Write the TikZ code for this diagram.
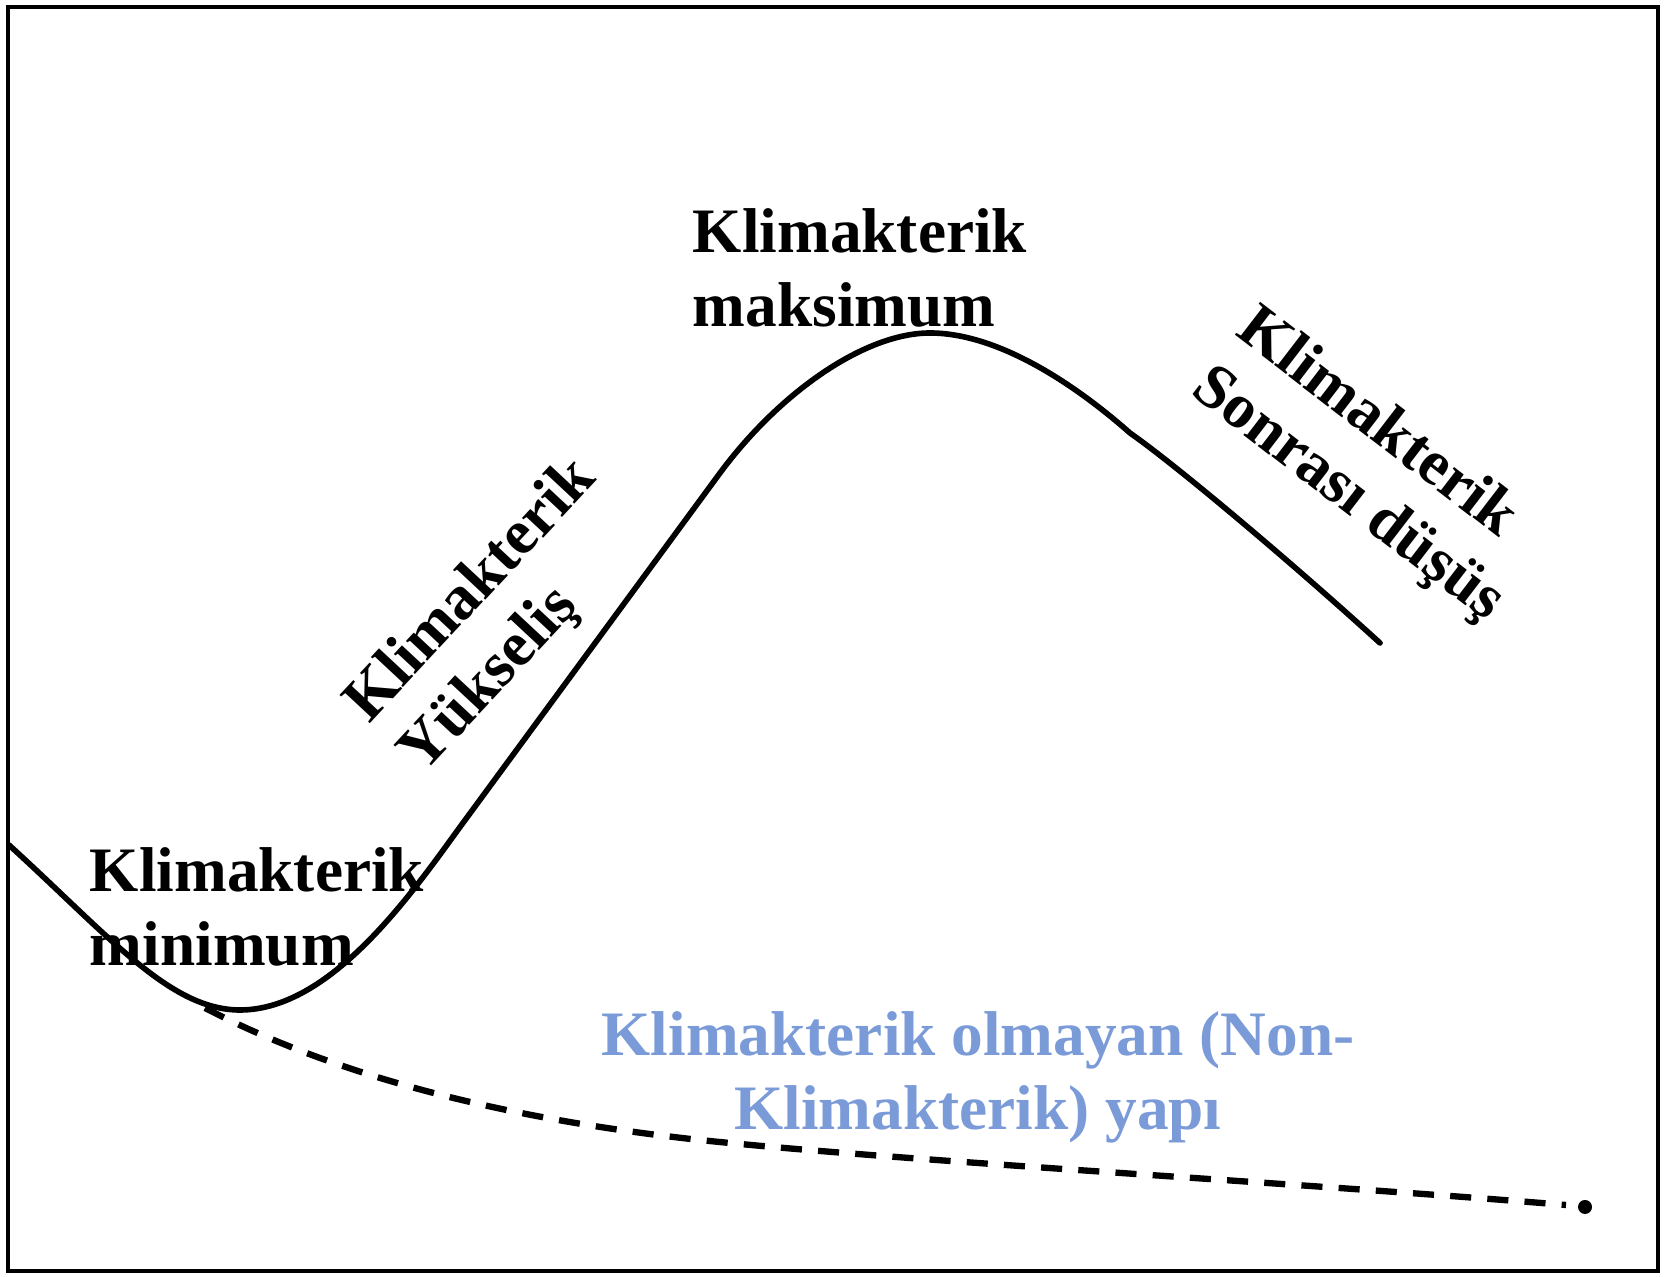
\documentclass[tikz,border=0pt]{standalone}
\usepackage{fontspec}
\setmainfont{Liberation Serif}
\definecolor{nonblue}{RGB}{122,155,216}

\begin{document}
\begin{tikzpicture}[x=0.01cm, y=-0.01cm, font=\fontsize{18}{21}\selectfont\bfseries,
  lbl/.style={inner sep=0pt, align=left},
  resp/.style={line width=1.6pt, line cap=round},
  nonresp/.style={line width=1.8pt, dash pattern=on 6pt off 4.6pt}]
\useasboundingbox (0,0) rectangle (1669,1277);
\draw[line width=1.3pt] (8,7) rectangle (1658,1271);
% klimakterik egri
\coordinate (cstart) at (9,845);
\coordinate (cmin) at (240,1010);
\coordinate (cmax) at (930,333);
\coordinate (cend) at (1380,643);
\draw[resp] (cstart) .. controls (110,937) and (170,1010) .. (cmin)
  .. controls (330,1010) and (410,896) .. (460,827) -- (720,473)
  .. controls (780,392) and (865,333) .. (cmax)
  .. controls (995,333) and (1070,380) .. (1130,433)
  .. controls (1180,468) and (1300,570) .. (cend);
% non-klimakterik egri
\coordinate (dashstart) at (205,1008);
\coordinate (dashend) at (1585,1207);
\draw[nonresp] (dashstart) .. controls (290,1052) and (440,1112) .. (700,1140)
  .. controls (900,1161) and (1300,1183) .. (1566,1205);
\fill (dashend) circle[radius=0.7mm];
% etiketler
\node[lbl] (minlbl) at (257,907) {Klimakterik\\minimum};
\node[lbl] (maxlbl) at (860,268) {Klimakterik\\maksimum};
\node[lbl, rotate=47] (riselbl) at (499,617) {Klimakterik\\Yükseliş};
\node[lbl, rotate=-37.5] (droplbl) at (1370,466) {Klimakterik\\Sonrası düşüş};
\node[inner sep=0pt, align=center, text=nonblue] (nonlbl) at (978,1077) {Klimakterik olmayan (Non-\\Klimakterik) yapı};
\end{tikzpicture}
\end{document}
